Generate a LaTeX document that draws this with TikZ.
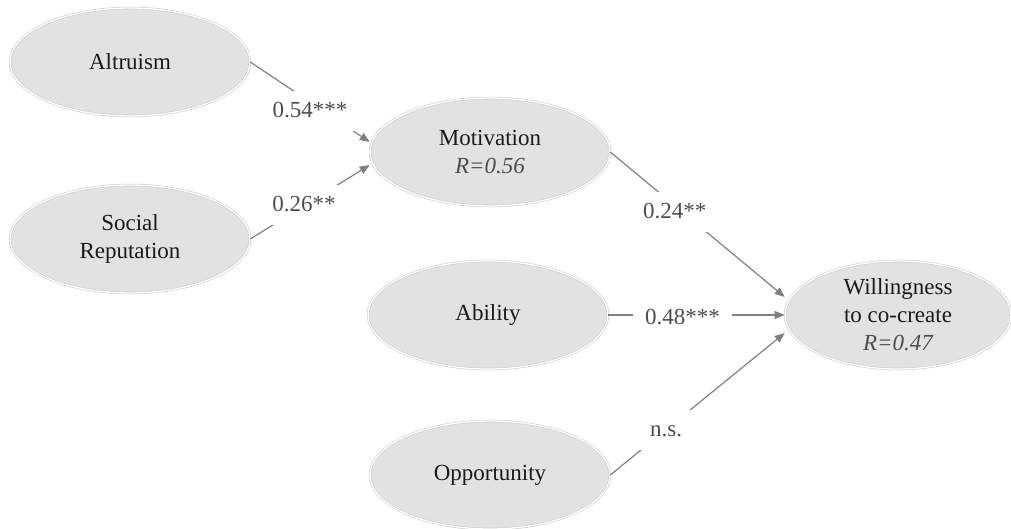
\documentclass[tikz,border=0pt]{standalone}
\usepackage{fontspec}
\setmainfont{Liberation Serif}
\usetikzlibrary{shapes.geometric,arrows.meta,calc}
\definecolor{ellfill}{HTML}{E2E2E2}
\definecolor{ellrim}{HTML}{CDCDCD}
\definecolor{conncol}{HTML}{808080}
\definecolor{lbltext}{HTML}{4D4D4D}
\definecolor{nodetext}{HTML}{1A1A1A}
\newcommand\rval[1]{{\color{lbltext}\itshape #1}}
\begin{document}
\begin{tikzpicture}[x=1pt,y=-1pt,
  ell/.style={ellipse, minimum width=240pt, minimum height=108pt, inner sep=0pt,
    fill=ellfill, draw=ellrim, double=white, double distance=1.3pt, line width=0.6pt,
    align=center, text=nodetext, font=\fontsize{23}{28}\selectfont},
  link/.style={draw=conncol, line width=1.2pt, -{Triangle[length=10pt,width=8pt]}},
  lbl/.style={fill=white, text=lbltext, font=\fontsize{23}{28}\selectfont,
    inner xsep=12pt, inner ysep=11pt, text height=16pt, text depth=2pt}]
\useasboundingbox (0,0) rectangle (1011,529);
\node[ell] (alt) at (130,62) {Altruism};
\node[ell] (soc) at (130,239) {Social\\Reputation};
\node[ell] (mot) at (490,152) {Motivation\\\rval{R=0.56}};
\node[ell] (abi) at (488,315) {Ability};
\node[ell] (opp) at (490,475) {Opportunity};
\node[ell, minimum width=226pt] (will) at (898,315) {Willingness\\to co-create\\\rval{R=0.47}};
\draw[link] (alt.east) -- node[lbl, yshift=-9pt] (l1) {0.54***} ($(mot.west)+(0,-10)$);
\draw[link] (soc.east) -- node[lbl, xshift=-6pt, yshift=-3pt] (l2) {0.26**} ($(mot.west)+(0,13)$);
\draw[link] (mot.east) -- node[lbl, pos=0.37, yshift=-6pt] (l3) {0.24**} ($(will.west)+(0,-18)$);
\draw[link] (abi.east) -- node[lbl, pos=0.42, yshift=-2pt] (l4) {0.48***} (will.west);
\draw[link] (opp.east) -- node[lbl, pos=0.32] (l5) {n.s.} ($(will.west)+(0,18)$);
\end{tikzpicture}
\end{document}
